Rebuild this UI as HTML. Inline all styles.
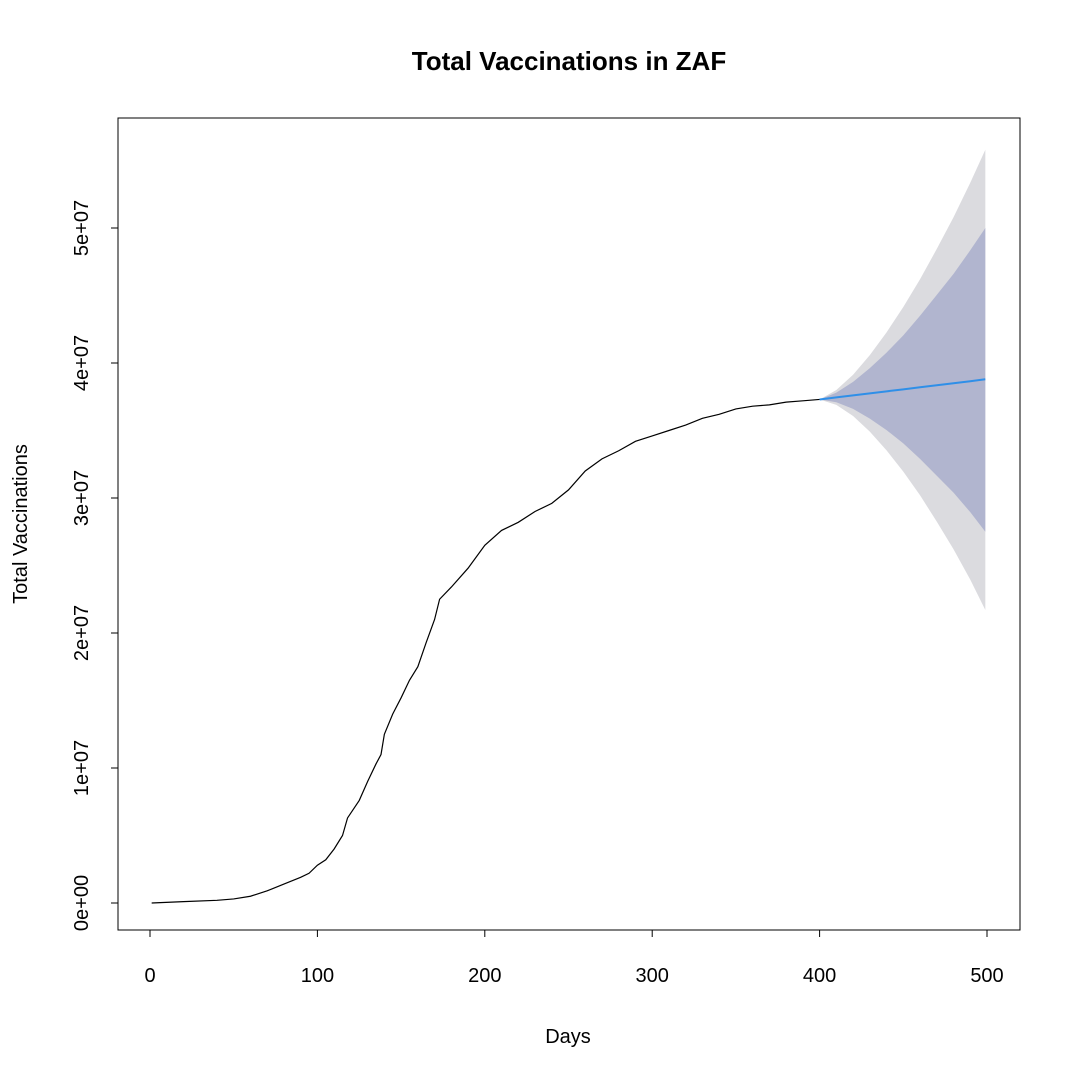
<!DOCTYPE html>
<html><head><meta charset="utf-8"><style>
body{margin:0;background:#fff}
svg{display:block;font-family:"Liberation Sans",sans-serif}
</style></head><body>
<svg id="chart" width="1080" height="1080">
<text x="569" y="70" text-anchor="middle" font-size="26" font-weight="bold">Total Vaccinations in ZAF</text>
<text x="568" y="1043" text-anchor="middle" font-size="20">Days</text>
<text transform="translate(27,524) rotate(-90)" text-anchor="middle" font-size="20">Total Vaccinations</text>
<rect x="118" y="118" width="902" height="812" fill="none" stroke="#000"/>
<g id="bands"></g><g id="axes"></g><g id="lines"></g>
</svg>
<script>
const days=[1,20,40,50,60,70,80,90,95,100,105,110,115,118,125,130,135,138,140,145,150,155,160,165,170,173,180,190,200,210,220,230,240,250,260,270,280,290,300,310,320,330,340,350,360,370,380,390,400];
const vacc=[0,0.1,0.2,0.3,0.5,0.9,1.4,1.9,2.2,2.8,3.2,4.0,5.0,6.3,7.6,9.0,10.3,11.0,12.5,14.0,15.2,16.5,17.5,19.3,21.0,22.5,23.4,24.8,26.5,27.6,28.2,29.0,29.6,30.6,32.0,32.9,33.5,34.2,34.6,35.0,35.4,35.9,36.2,36.6,36.8,36.9,37.1,37.2,37.3];
const fDays=[400,410,420,430,440,450,460,470,480,490,499];
const fMean=[37.3,37.45,37.6,37.75,37.9,38.05,38.2,38.35,38.5,38.65,38.8];
const fLo95=[37.3,36.9,36.07,34.92,33.53,31.95,30.2,28.25,26.2,23.95,21.7];
const fHi95=[37.3,38.0,39.13,40.58,42.27,44.15,46.2,48.45,50.8,53.35,55.8];
const fLo80=[37.3,37.09,36.6,35.88,35.03,34.05,32.9,31.65,30.4,28.95,27.5];
const fHi80=[37.3,37.81,38.6,39.62,40.77,42.05,43.5,45.05,46.6,48.35,50.0];
const xTicks=[0,100,200,300,400,500];
const yTicks=[0,10,20,30,40,50];
const yTickLabels=["0e+00","1e+07","2e+07","3e+07","4e+07","5e+07"];
const X=d=>150+d*1.674;
const Y=v=>903-v*13.5;
const NS="http://www.w3.org/2000/svg";
function mk(p,t,a){const e=document.createElementNS(NS,t);for(const k in a)e.setAttribute(k,a[k]);document.getElementById(p).appendChild(e);return e;}
function band(lo,hi){let p=fDays.map((d,i)=>X(d)+","+Y(hi[i]));for(let i=fDays.length-1;i>=0;i--)p.push(X(fDays[i])+","+Y(lo[i]));return p.join(" ");}
let e=mk("bands","polygon",{points:band(fLo95,fHi95),fill:"#dbdbdf"});


e=mk("bands","polygon",{points:band(fLo80,fHi80),fill:"#b1b5cf"});


e=mk("lines","polyline",{points:days.map((d,i)=>X(d)+","+Y(vacc[i])).join(" "),fill:"none",stroke:"#000","stroke-width":1.2});


e=mk("lines","polyline",{points:fDays.map((d,i)=>X(d)+","+Y(fMean[i])).join(" "),fill:"none",stroke:"#2f8fe8","stroke-width":2});


mk("axes","line",{x1:X(0),x2:X(500),y1:930,y2:930,stroke:"#000"});
xTicks.forEach(t=>{mk("axes","line",{x1:X(t),x2:X(t),y1:930,y2:937,stroke:"#000"});
const l=mk("axes","text",{x:X(t),y:982,"text-anchor":"middle","font-size":20});l.textContent=t;

});
mk("axes","line",{x1:118,x2:118,y1:Y(0),y2:Y(50),stroke:"#000"});
yTicks.forEach((t,i)=>{mk("axes","line",{x1:111,x2:118,y1:Y(t),y2:Y(t),stroke:"#000"});
const l=mk("axes","text",{transform:`translate(88,${Y(t)}) rotate(-90)`,"text-anchor":"middle","font-size":20});l.textContent=yTickLabels[i];

});
</script>
</body></html>
